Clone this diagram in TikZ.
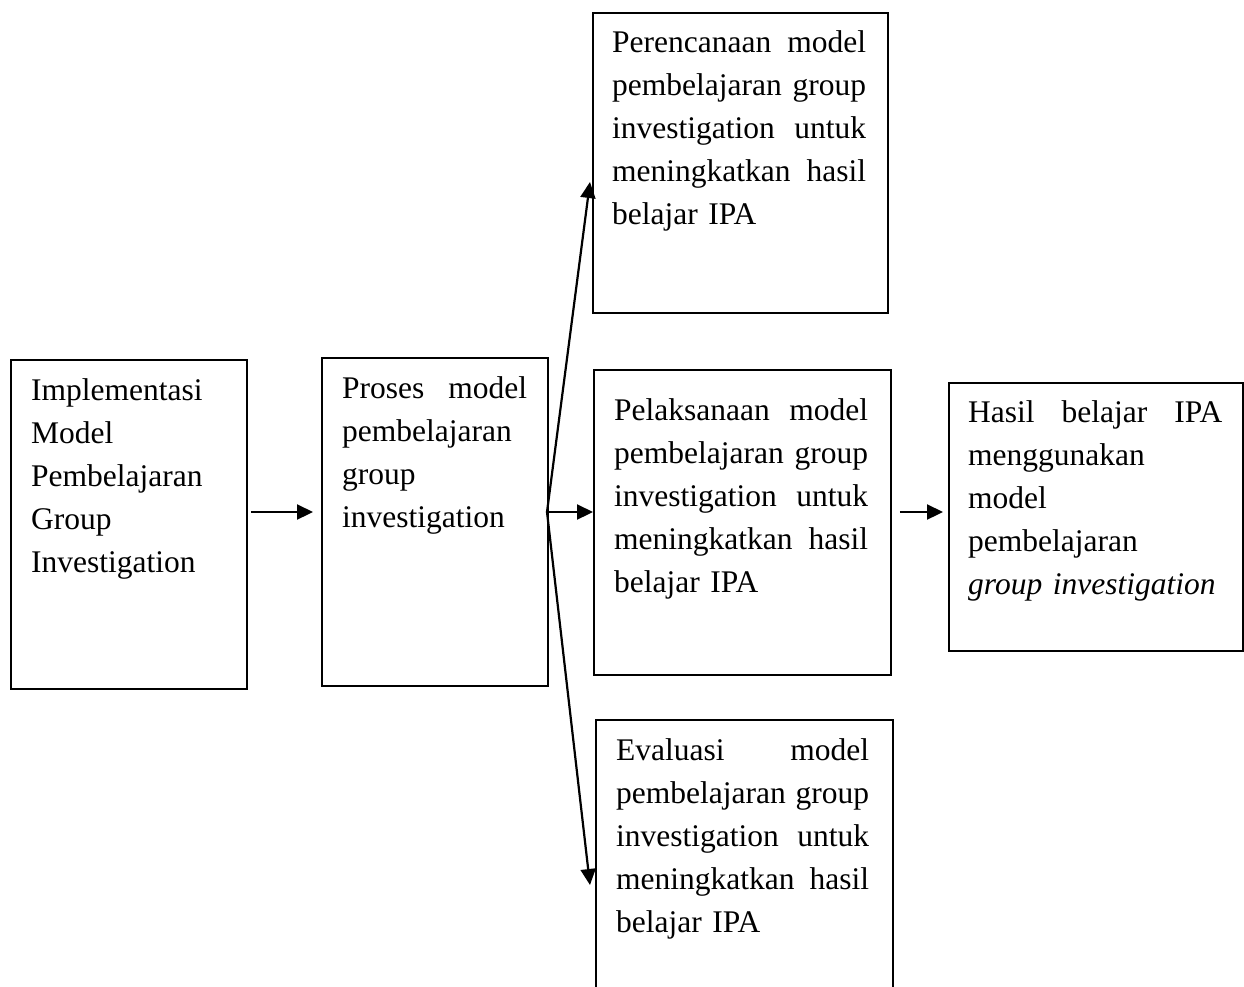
\documentclass[tikz,border=0pt]{standalone}
\usepackage{fontspec}
\setmainfont{Liberation Serif}
\usetikzlibrary{arrows.meta,positioning}

\tikzset{
  kotak/.style={draw, line width=1.8pt, rectangle, inner sep=0pt, anchor=north west},
  isi/.style={inner sep=0pt, anchor=base west, align=left, font=\fontsize{31.5}{43}\selectfont},
  panah/.style={line width=2.2pt, -{Triangle[length=16pt,width=15pt]}}
}

\begin{document}
\begin{tikzpicture}[x=1pt,y=-1pt]
\useasboundingbox (0,0) rectangle (1244,986);
\clip (0,0) rectangle (1244,986);

\node[kotak, minimum width=236, minimum height=329] (impl) at (10,359) {};
\node[kotak, minimum width=226, minimum height=328] (proses) at (321,357) {};
\node[kotak, minimum width=295, minimum height=300] (rencana) at (592,12) {};
\node[kotak, minimum width=297, minimum height=305] (laksana) at (593,369) {};
\node[kotak, minimum width=297, minimum height=300] (evaluasi) at (595,719) {};
\node[kotak, minimum width=294, minimum height=268] (hasil) at (948,382) {};

\node[isi, text width=200] (implT) at (31,400)
  {Implementasi\\Model\\Pembelajaran\\Group\\Investigation};
\node[isi, text width=185] (prosesT) at (342,398)
  {Proses\hfill model\\pembelajaran\\group\\investigation};
\node[isi, text width=254] (rencanaT) at (612,52)
  {Perencanaan\hfill model\\pembelajaran\hfill group\\investigation\hfill untuk\\meningkatkan\hfill hasil\\belajar IPA};
\node[isi, text width=254] (laksanaT) at (614,420)
  {Pelaksanaan\hfill model\\pembelajaran\hfill group\\investigation\hfill untuk\\meningkatkan\hfill hasil\\belajar IPA};
\node[isi, text width=253] (evaluasiT) at (616,760)
  {Evaluasi\hfill model\\pembelajaran\hfill group\\investigation\hfill untuk\\meningkatkan\hfill hasil\\belajar IPA};
\node[isi, text width=254] (hasilT) at (968,422)
  {Hasil\hfill belajar\hfill IPA\\menggunakan\\model\\pembelajaran\\\textit{group investigation}};

\coordinate (cabang) at (547,512);
\draw[panah, shorten <=3pt, shorten >=8pt] (impl.east |- cabang) -- (proses.west |- cabang);
\draw[panah] (cabang) -- (laksana.west |- cabang);
\draw[panah] (cabang) -- ([shift={(-2,170)}]rencana.north west);
\draw[panah] (cabang) -- ([shift={(-5,166)}]evaluasi.north west);
\draw[panah, shorten <=8pt, shorten >=5pt] (laksana.east |- cabang) -- (hasil.west |- cabang);
\end{tikzpicture}
\end{document}
